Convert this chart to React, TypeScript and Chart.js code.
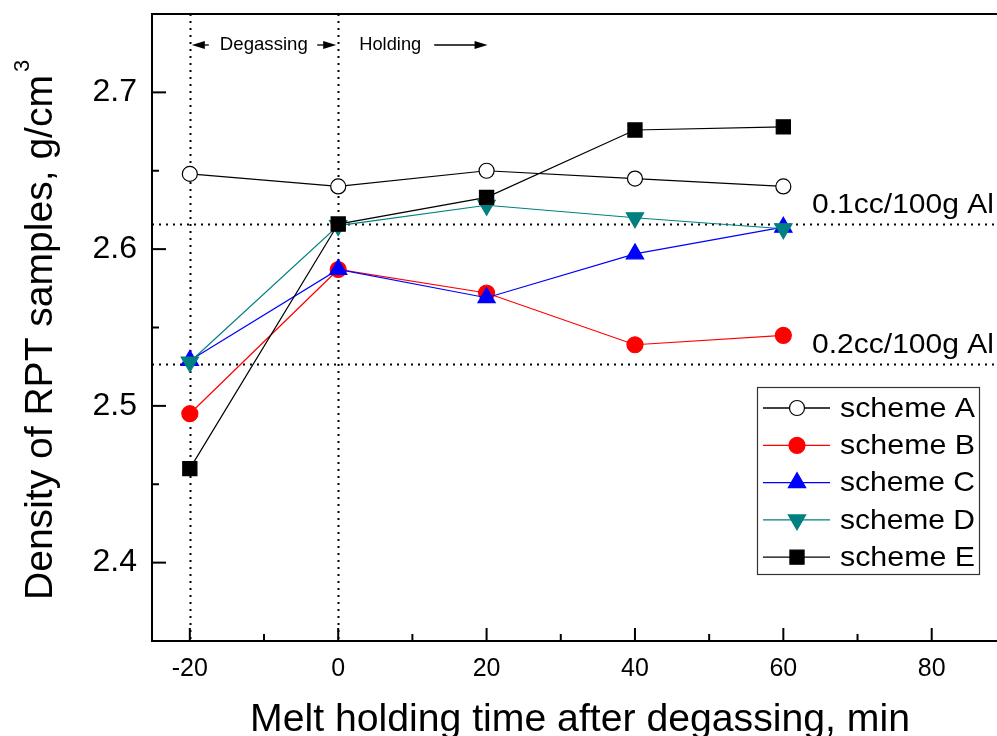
import React, { useEffect, useRef } from 'react';
import { Chart, registerables } from 'chart.js';

Chart.register(...registerables);

// ---- data ----
const times = [-20, 0, 20, 40, 60];
const schemeA = [2.648, 2.640, 2.650, 2.645, 2.640];
const schemeB = [2.495, 2.587, 2.572, 2.539, 2.545];
const schemeC = [2.529, 2.587, 2.569, 2.597, 2.614];
const schemeD = [2.528, 2.615, 2.628, 2.620, 2.613];
const schemeE = [2.460, 2.616, 2.633, 2.676, 2.678];
const seriesNames = ['scheme A', 'scheme B', 'scheme C', 'scheme D', 'scheme E'];

const xMajorTicks = [-20, 0, 20, 40, 60, 80];
const xMinorTicks = [-10, 10, 30, 50, 70];
const yMajorTicks = [2.4, 2.5, 2.6, 2.7];
const yMinorTicks = [2.45, 2.55, 2.65];

const refLevels = [2.616, 2.527];
const refLabels = ['0.1cc/100g Al', '0.2cc/100g Al'];
const phaseBounds = [-20, 0];
const holdingArrowEnd = 20;
const phaseLabels = ['Degassing', 'Holding'];

const xTitle = 'Melt holding time after degassing, min';
const yTitle = 'Density of RPT samples, g/cm';
const yTitleSup = '3';

const FONT = '"Liberation Sans", Arial, Helvetica, sans-serif';

type Style = { color: string; fill: string; shape: string; radius: number; rotation: number };
const styles: Style[] = [
  { color: '#000000', fill: '#ffffff', shape: 'circle', radius: 7.5, rotation: 0 },
  { color: '#ff0000', fill: '#ff0000', shape: 'circle', radius: 8, rotation: 0 },
  { color: '#0000ff', fill: '#0000ff', shape: 'triangle', radius: 10, rotation: 0 },
  { color: '#008080', fill: '#008080', shape: 'triangle', radius: 10, rotation: 180 },
  { color: '#000000', fill: '#000000', shape: 'rect', radius: 10, rotation: 0 },
];

function markerPath(ctx: CanvasRenderingContext2D, shape: string, x: number, y: number, r: number, rot: number) {
  ctx.beginPath();
  if (shape === 'circle') {
    ctx.arc(x, y, r, 0, Math.PI * 2);
  } else if (shape === 'rect') {
    const s = r * Math.SQRT1_2;
    ctx.rect(x - s, y - s, 2 * s, 2 * s);
  } else {
    let a = (rot * Math.PI) / 180;
    ctx.moveTo(x + Math.sin(a) * r, y - Math.cos(a) * r);
    a += (2 * Math.PI) / 3;
    ctx.lineTo(x + Math.sin(a) * r, y - Math.cos(a) * r);
    a += (2 * Math.PI) / 3;
    ctx.lineTo(x + Math.sin(a) * r, y - Math.cos(a) * r);
    ctx.closePath();
  }
}

// draw text (left aligned at x) stretched horizontally to a given width
function fillStretched(ctx: CanvasRenderingContext2D, text: string, x: number, y: number, width: number) {
  const w = ctx.measureText(text).width;
  const sx = width / w;
  ctx.save();
  ctx.translate(x, y);
  ctx.scale(sx, 1);
  ctx.textAlign = 'left';
  ctx.fillText(text, 0, 0);
  ctx.restore();
}

function arrow(ctx: CanvasRenderingContext2D, x0: number, x1: number, y: number) {
  const dir = Math.sign(x1 - x0);
  ctx.beginPath();
  ctx.moveTo(x0, y);
  ctx.lineTo(x1 - dir * 8, y);
  ctx.lineWidth = 1.3;
  ctx.strokeStyle = '#000';
  ctx.stroke();
  ctx.beginPath();
  ctx.moveTo(x1, y);
  ctx.lineTo(x1 - dir * 13, y - 4);
  ctx.lineTo(x1 - dir * 13, y + 4);
  ctx.closePath();
  ctx.fillStyle = '#000';
  ctx.fill();
}

const decorPlugin = {
  id: 'decor',
  beforeDatasetsDraw(chart: any) {
    const { ctx, chartArea: ca, scales } = chart;
    const xs = scales.x;
    const ys = scales.y;
    ctx.save();
    ctx.strokeStyle = '#000';
    ctx.lineWidth = 2;
    ctx.setLineDash([2, 5]);
    refLevels.forEach((v) => {
      const py = Math.round(ys.getPixelForValue(v)) + 0.5;
      ctx.beginPath();
      ctx.moveTo(ca.left, py);
      ctx.lineTo(ca.right, py);
      ctx.stroke();
    });
    phaseBounds.forEach((v) => {
      const px = Math.round(xs.getPixelForValue(v)) + 0.5;
      ctx.beginPath();
      ctx.moveTo(px, ca.top);
      ctx.lineTo(px, ca.bottom);
      ctx.stroke();
    });
    ctx.setLineDash([]);
    ctx.lineWidth = 2;
    const tick = (x0: number, y0: number, x1: number, y1: number) => {
      ctx.beginPath();
      ctx.moveTo(x0, y0);
      ctx.lineTo(x1, y1);
      ctx.stroke();
    };
    xMajorTicks.forEach((v) => {
      const px = xs.getPixelForValue(v);
      tick(px, ca.bottom, px, ca.bottom - 13);
    });
    xMinorTicks.forEach((v) => {
      const px = xs.getPixelForValue(v);
      tick(px, ca.bottom, px, ca.bottom - 7);
    });
    yMajorTicks.forEach((v) => {
      const py = ys.getPixelForValue(v);
      tick(ca.left, py, ca.left + 14, py);
    });
    yMinorTicks.forEach((v) => {
      const py = ys.getPixelForValue(v);
      tick(ca.left, py, ca.left + 7, py);
    });
    tick(ca.left - 1, ca.top, ca.right, ca.top);
    ctx.restore();
  },
  afterDraw(chart: any) {
    const { ctx, scales } = chart;
    const xs = scales.x;
    const ys = scales.y;
    ctx.save();
    ctx.fillStyle = '#000';
    // reference labels
    ctx.font = `28px ${FONT}`;
    ctx.textBaseline = 'alphabetic';
    refLevels.forEach((v, i) => {
      const py = ys.getPixelForValue(v);
      fillStretched(ctx, refLabels[i], 812, py - 11, 182);
    });
    // phase labels with arrows
    const xa = xs.getPixelForValue(phaseBounds[0]);
    const xb = xs.getPixelForValue(phaseBounds[1]);
    const xc = xs.getPixelForValue(holdingArrowEnd);
    const ay = 45;
    ctx.font = `19px ${FONT}`;
    ctx.textBaseline = 'middle';
    fillStretched(ctx, phaseLabels[0], xa + 30, ay, 88);
    arrow(ctx, xa + 19, xa + 2, ay);
    arrow(ctx, xb - 21, xb - 2, ay);
    ctx.fillStyle = '#000';
    fillStretched(ctx, phaseLabels[1], xb + 21, ay, 62);
    arrow(ctx, xb + 96, xc + 1, ay);
    // legend
    const lx = 757, ly = 387, lw = 222, lh = 187;
    ctx.strokeStyle = '#333';
    ctx.lineWidth = 1.2;
    ctx.strokeRect(lx + 0.5, ly + 0.5, lw, lh);
    ctx.font = `28px ${FONT}`;
    ctx.textBaseline = 'middle';
    seriesNames.forEach((name, i) => {
      const st = styles[i];
      const ry = ly + 21 + i * 37.3;
      ctx.beginPath();
      ctx.moveTo(lx + 6, ry);
      ctx.lineTo(lx + 73, ry);
      ctx.strokeStyle = st.color;
      ctx.lineWidth = 1.3;
      ctx.stroke();
      markerPath(ctx, st.shape, lx + 40, ry, st.radius, st.rotation);
      ctx.fillStyle = st.fill;
      ctx.fill();
      ctx.strokeStyle = st.color;
      ctx.lineWidth = 1.2;
      ctx.stroke();
      ctx.fillStyle = '#000';
      fillStretched(ctx, name, lx + 83, ry + 1, 135);
    });
    // axis titles
    ctx.fillStyle = '#000';
    ctx.font = `38px ${FONT}`;
    ctx.textBaseline = 'alphabetic';
    fillStretched(ctx, xTitle, 250, 731, 660);
    ctx.save();
    ctx.translate(52, 600);
    ctx.rotate(-Math.PI / 2);
    ctx.textAlign = 'left';
    ctx.font = `38px ${FONT}`;
    const w = ctx.measureText(yTitle).width;
    const s = 525 / w;
    ctx.save();
    ctx.scale(s, 1);
    ctx.fillText(yTitle, 0, 0);
    ctx.restore();
    ctx.font = `22px ${FONT}`;
    ctx.fillText(yTitleSup, 525 + 3, -23);
    ctx.restore();
    ctx.restore();
  },
};

export default function App() {
  const canvasRef = useRef<HTMLCanvasElement>(null);

  useEffect(() => {
    document.body.style.margin = '0';
    const canvas = canvasRef.current;
    if (!canvas) return;
    const all = [schemeA, schemeB, schemeC, schemeD, schemeE];
    const datasets = all.map((vals, i) => {
      const st = styles[i];
      return {
        label: seriesNames[i],
        data: vals.map((v, j) => ({ x: times[j], y: v })),
        borderColor: st.color,
        backgroundColor: st.fill,
        borderWidth: 1.2,
        pointStyle: st.shape,
        pointRadius: st.radius,
        pointRotation: st.rotation,
        pointBackgroundColor: st.fill,
        pointBorderColor: st.color,
        pointBorderWidth: 1.2,
        pointHoverRadius: st.radius,
        tension: 0,
        fill: false,
        order: 5 - i,
      };
    });
    const chart = new Chart(canvas, {
      type: 'line',
      data: { datasets },
      options: {
        animation: false,
        responsive: true,
        maintainAspectRatio: false,
        devicePixelRatio: 1,
        layout: { autoPadding: false, padding: { top: 14, right: 0, left: 0, bottom: 0 } },
        plugins: {
          legend: { display: false },
          tooltip: { enabled: false },
          title: { display: false },
        },
        scales: {
          x: {
            type: 'linear',
            min: -25.1,
            max: 88.8,
            grid: { display: false, drawTicks: false },
            border: { display: true, color: '#000', width: 2 },
            afterBuildTicks: (scale: any) => {
              scale.ticks = xMajorTicks.map((v) => ({ value: v }));
            },
            afterFit: (scale: any) => {
              scale.height = 95;
              scale.paddingLeft = 0;
              scale.paddingRight = 0;
              scale.paddingTop = 0;
              scale.paddingBottom = 0;
            },
            ticks: {
              color: '#000',
              font: { family: FONT, size: 25 },
              padding: 13,
              maxRotation: 0,
              autoSkip: false,
              callback: (v: any) => String(v),
            },
          },
          y: {
            type: 'linear',
            min: 2.35,
            max: 2.75,
            grid: { display: false, drawTicks: false },
            border: { display: true, color: '#000', width: 2 },
            afterBuildTicks: (scale: any) => {
              scale.ticks = yMajorTicks.map((v) => ({ value: v }));
            },
            afterFit: (scale: any) => {
              scale.width = 152;
              scale.paddingLeft = 0;
              scale.paddingRight = 0;
              scale.paddingTop = 0;
              scale.paddingBottom = 0;
            },
            ticks: {
              color: '#000',
              font: { family: FONT, size: 32 },
              padding: 15,
              autoSkip: false,
              callback: (v: any) => Number(v).toFixed(1),
            },
          },
        },
      },
      plugins: [decorPlugin],
    });
    return () => chart.destroy();
  }, []);

  return (
    <div style={{ position: 'relative', width: 997, height: 736 }}>
      <canvas ref={canvasRef} style={{ display: 'block' }} />
    </div>
  );
}
